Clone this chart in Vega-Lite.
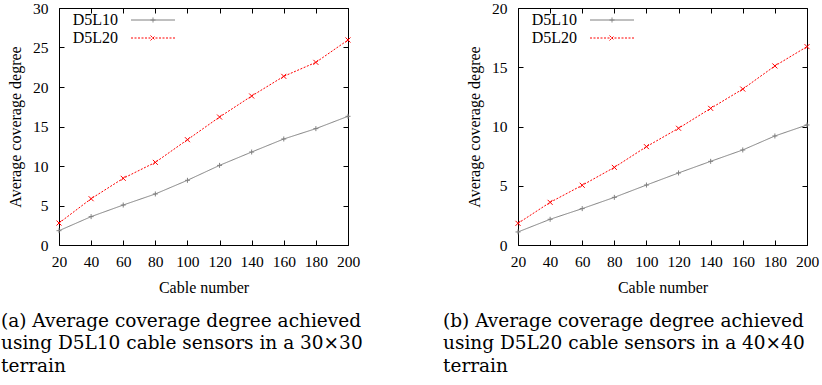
{
  "$schema": "https://vega.github.io/schema/vega-lite/v6.json",
  "padding": {"left": 0, "top": 0, "right": 0, "bottom": 0},
  "background": "white",
  "spacing": 78,
  "resolve": {"legend": {"color": "independent", "strokeDash": "independent"}},
  "config": {
    "font": "Liberation Serif",
    "view": {"stroke": "black", "strokeWidth": 1},
    "axis": {
      "labelFont": "Liberation Serif", "labelFontSize": 15.5, "labelColor": "black", "labelOverlap": false, "labelFlush": false,
      "titleFont": "Liberation Serif", "titleFontSize": 16, "titleFontWeight": "normal", "titleColor": "black",
      "tickColor": "black", "tickSize": -5, "domain": false, "grid": false
    },
    "legend": {"labelFont": "Liberation Serif", "labelFontSize": 16, "labelColor": "black"}
  },
  "datasets": {
    "a": [
      {"cable": 20, "series": "D5L10", "degree": 1.81},
      {"cable": 40, "series": "D5L10", "degree": 3.59},
      {"cable": 60, "series": "D5L10", "degree": 5.06},
      {"cable": 80, "series": "D5L10", "degree": 6.46},
      {"cable": 100, "series": "D5L10", "degree": 8.19},
      {"cable": 120, "series": "D5L10", "degree": 10.08},
      {"cable": 140, "series": "D5L10", "degree": 11.77},
      {"cable": 160, "series": "D5L10", "degree": 13.42},
      {"cable": 180, "series": "D5L10", "degree": 14.73},
      {"cable": 200, "series": "D5L10", "degree": 16.29},
      {"cable": 20, "series": "D5L20", "degree": 2.78},
      {"cable": 40, "series": "D5L20", "degree": 5.86},
      {"cable": 60, "series": "D5L20", "degree": 8.44},
      {"cable": 80, "series": "D5L20", "degree": 10.46},
      {"cable": 100, "series": "D5L20", "degree": 13.33},
      {"cable": 120, "series": "D5L20", "degree": 16.2},
      {"cable": 140, "series": "D5L20", "degree": 18.86},
      {"cable": 160, "series": "D5L20", "degree": 21.35},
      {"cable": 180, "series": "D5L20", "degree": 23.12},
      {"cable": 200, "series": "D5L20", "degree": 25.95}
    ],
    "b": [
      {"cable": 20, "series": "D5L10", "degree": 1.10},
      {"cable": 40, "series": "D5L10", "degree": 2.17},
      {"cable": 60, "series": "D5L10", "degree": 3.07},
      {"cable": 80, "series": "D5L10", "degree": 4.02},
      {"cable": 100, "series": "D5L10", "degree": 5.06},
      {"cable": 120, "series": "D5L10", "degree": 6.08},
      {"cable": 140, "series": "D5L10", "degree": 7.06},
      {"cable": 160, "series": "D5L10", "degree": 8.02},
      {"cable": 180, "series": "D5L10", "degree": 9.20},
      {"cable": 200, "series": "D5L10", "degree": 10.13},
      {"cable": 20, "series": "D5L20", "degree": 1.83},
      {"cable": 40, "series": "D5L20", "degree": 3.60},
      {"cable": 60, "series": "D5L20", "degree": 5.04},
      {"cable": 80, "series": "D5L20", "degree": 6.55},
      {"cable": 100, "series": "D5L20", "degree": 8.30},
      {"cable": 120, "series": "D5L20", "degree": 9.85},
      {"cable": 140, "series": "D5L20", "degree": 11.53},
      {"cable": 160, "series": "D5L20", "degree": 13.16},
      {"cable": 180, "series": "D5L20", "degree": 15.11},
      {"cable": 200, "series": "D5L20", "degree": 16.74}
    ]
  },
  "hconcat": [
    {
      "width": 289, "height": 237,
      "data": {"name": "a"},
      "title": {"text": ["(a) Average coverage degree achieved", "using D5L10 cable sensors in a 30×30", "terrain"], "orient": "bottom", "anchor": "start", "frame": "group", "font": "DejaVu Serif", "fontSize": 18.5, "fontWeight": "normal", "lineHeight": 22.5, "offset": 16, "dx": -58, "color": "black"},
      "layer": [
        {
          "mark": {"type": "line", "strokeWidth": 1},
          "encoding": {
            "x": {"field": "cable", "type": "quantitative", "scale": {"domain": [20, 200], "nice": false, "zero": false}, "axis": {"values": [20,40,60,80,100,120,140,160,180,200], "title": "Cable number", "labelPadding": 14, "titlePadding": 10}},
            "y": {"field": "degree", "type": "quantitative", "scale": {"domain": [0, 30], "nice": false}, "axis": {"values": [0,5,10,15,20,25,30], "title": "Average coverage degree", "labelPadding": 16, "titlePadding": 9}},
            "color": {"field": "series", "type": "nominal", "scale": {"domain": ["D5L10", "D5L20"], "range": ["#808080", "#ff0000"]}, "legend": {"title": null, "orient": "none", "legendX": 86, "legendY": 4, "symbolType": "M-4,0L4,0", "symbolSize": 121, "symbolStrokeWidth": 1, "labelAlign": "right", "labelOffset": -43, "rowPadding": 2, "encode": {"symbols": {"update": {"shape": {"signal": "datum.value === 'D5L10' ? 'M-4,0L4,0M0,-0.45L0,0.45M-0.45,0L0.45,0' : 'M-4,0L4,0M-0.45,-0.45L0.45,0.45M-0.45,0.45L0.45,-0.45'"}}}}}},
            "strokeDash": {"field": "series", "type": "nominal", "scale": {"domain": ["D5L10", "D5L20"], "range": [[1, 0], [2, 1.5]]}, "legend": {"title": null}}
          }
        },
        {
          "transform": [{"filter": "datum.series === 'D5L10'"}],
          "mark": {"type": "point", "filled": false, "strokeWidth": 1, "size": 25, "opacity": 1, "color": "#808080", "shape": "M-1,0L1,0M0,-1L0,1"},
          "encoding": {
            "x": {"field": "cable", "type": "quantitative", "axis": null},
            "y": {"field": "degree", "type": "quantitative", "axis": null}
          }
        },
        {
          "transform": [{"filter": "datum.series === 'D5L20'"}],
          "mark": {"type": "point", "filled": false, "strokeWidth": 1, "size": 25, "opacity": 1, "color": "#ff0000", "shape": "M-1,-1L1,1M-1,1L1,-1"},
          "encoding": {
            "x": {"field": "cable", "type": "quantitative", "axis": null},
            "y": {"field": "degree", "type": "quantitative", "axis": null}
          }
        },
        {
          "mark": {"type": "line", "opacity": 0},
          "encoding": {
            "x": {"field": "cable", "type": "quantitative", "axis": {"orient": "top", "values": [20,40,60,80,100,120,140,160,180,200], "labels": false, "title": null}},
            "y": {"field": "degree", "type": "quantitative", "axis": {"orient": "right", "values": [0,5,10,15,20,25,30], "labels": false, "title": null}},
            "detail": {"field": "series"}
          }
        }
      ],
      "resolve": {"axis": {"x": "independent", "y": "independent"}}
    },
    {
      "width": 289, "height": 237,
      "data": {"name": "b"},
      "title": {"text": ["(b) Average coverage degree achieved", "using D5L20 cable sensors in a 40×40", "terrain"], "orient": "bottom", "anchor": "start", "frame": "group", "font": "DejaVu Serif", "fontSize": 18.5, "fontWeight": "normal", "lineHeight": 22.5, "offset": 16, "dx": -75, "color": "black"},
      "layer": [
        {
          "mark": {"type": "line", "strokeWidth": 1},
          "encoding": {
            "x": {"field": "cable", "type": "quantitative", "scale": {"domain": [20, 200], "nice": false, "zero": false}, "axis": {"values": [20,40,60,80,100,120,140,160,180,200], "title": "Cable number", "labelPadding": 14, "titlePadding": 10}},
            "y": {"field": "degree", "type": "quantitative", "scale": {"domain": [0, 20], "nice": false}, "axis": {"values": [0,5,10,15,20], "title": "Average coverage degree", "labelPadding": 16, "titlePadding": 9}},
            "color": {"field": "series", "type": "nominal", "scale": {"domain": ["D5L10", "D5L20"], "range": ["#808080", "#ff0000"]}, "legend": {"title": null, "orient": "none", "legendX": 86, "legendY": 4, "symbolType": "M-4,0L4,0", "symbolSize": 121, "symbolStrokeWidth": 1, "labelAlign": "right", "labelOffset": -43, "rowPadding": 2, "encode": {"symbols": {"update": {"shape": {"signal": "datum.value === 'D5L10' ? 'M-4,0L4,0M0,-0.45L0,0.45M-0.45,0L0.45,0' : 'M-4,0L4,0M-0.45,-0.45L0.45,0.45M-0.45,0.45L0.45,-0.45'"}}}}}},
            "strokeDash": {"field": "series", "type": "nominal", "scale": {"domain": ["D5L10", "D5L20"], "range": [[1, 0], [2, 1.5]]}, "legend": {"title": null}}
          }
        },
        {
          "transform": [{"filter": "datum.series === 'D5L10'"}],
          "mark": {"type": "point", "filled": false, "strokeWidth": 1, "size": 25, "opacity": 1, "color": "#808080", "shape": "M-1,0L1,0M0,-1L0,1"},
          "encoding": {
            "x": {"field": "cable", "type": "quantitative", "axis": null},
            "y": {"field": "degree", "type": "quantitative", "axis": null}
          }
        },
        {
          "transform": [{"filter": "datum.series === 'D5L20'"}],
          "mark": {"type": "point", "filled": false, "strokeWidth": 1, "size": 25, "opacity": 1, "color": "#ff0000", "shape": "M-1,-1L1,1M-1,1L1,-1"},
          "encoding": {
            "x": {"field": "cable", "type": "quantitative", "axis": null},
            "y": {"field": "degree", "type": "quantitative", "axis": null}
          }
        },
        {
          "mark": {"type": "line", "opacity": 0},
          "encoding": {
            "x": {"field": "cable", "type": "quantitative", "axis": {"orient": "top", "values": [20,40,60,80,100,120,140,160,180,200], "labels": false, "title": null}},
            "y": {"field": "degree", "type": "quantitative", "axis": {"orient": "right", "values": [0,5,10,15,20], "labels": false, "title": null}},
            "detail": {"field": "series"}
          }
        }
      ],
      "resolve": {"axis": {"x": "independent", "y": "independent"}}
    }
  ]
}
